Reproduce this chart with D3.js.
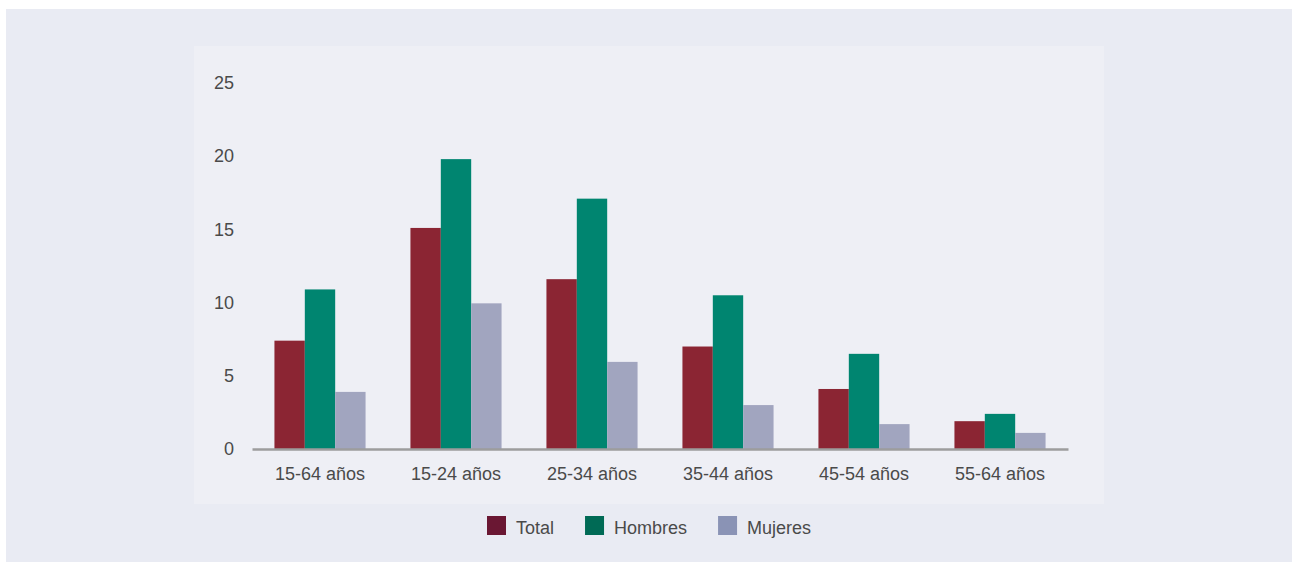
<!DOCTYPE html>
<html>
<head>
<meta charset="utf-8">
<script src="https://cdn.jsdelivr.net/npm/d3@7"></script>
<style>
  html, body { margin: 0; padding: 0; background: #ffffff; }
  svg { display: block; font-family: "Liberation Sans", Arial, Helvetica, sans-serif; }
</style>
</head>
<body>
<svg id="chart" width="1292" height="562"></svg>
<script>
const categories = ["15-64 años", "15-24 años", "25-34 años", "35-44 años", "45-54 años", "55-64 años"];
const seriesNames = ["Total", "Hombres", "Mujeres"];
const totalValues   = [7.4, 15.1, 11.6, 7.0, 4.1, 1.9];
const hombresValues = [10.9, 19.8, 17.1, 10.5, 6.5, 2.4];
const mujeresValues = [3.9, 9.95, 5.95, 3.0, 1.7, 1.1];
const yTicks = [0, 5, 10, 15, 20, 25];

const barColors = ["#8b2533", "#008570", "#a1a5bf"];
const legendColors = ["#6a1733", "#006a55", "#8a93b5"];

const seriesValues = [totalValues, hombresValues, mujeresValues];
const data = categories.map((c, i) => ({
  cat: c,
  vals: seriesNames.map((s, j) => ({ key: s, idx: j, value: seriesValues[j][i] }))
}));

const svg = d3.select("#chart");

// backgrounds
svg.append("rect").attr("x", 6).attr("y", 9).attr("width", 1286).attr("height", 553).attr("fill", "#e9ebf3");
svg.append("rect").attr("x", 194).attr("y", 46).attr("width", 910).attr("height", 458).attr("fill", "#eeeff5");

const x0 = d3.scaleBand().domain(categories).range([252, 1068]).paddingInner(0.33).paddingOuter(0.165);
const x1 = d3.scaleBand().domain(seriesNames).range([0, x0.bandwidth()]).padding(0);
const y = d3.scaleLinear().domain([0, 25]).range([449, 83]);

// bars
const groups = svg.append("g").selectAll("g").data(data).join("g")
  .attr("transform", d => `translate(${x0(d.cat)},0)`);
groups.selectAll("rect").data(d => d.vals).join("rect")
  .attr("x", d => x1(d.key))
  .attr("y", d => y(d.value))
  .attr("width", x1.bandwidth())
  .attr("height", d => y(0) - y(d.value))
  .attr("fill", d => barColors[d.idx]);

// y axis (labels only)
const yAxis = d3.axisLeft(y).tickValues(yTicks).tickSize(0).tickPadding(0).tickFormat(d3.format("d"));
const gy = svg.append("g").attr("transform", "translate(234,0)").call(yAxis);
gy.select(".domain").remove();
gy.selectAll("text").attr("font-size", 18).attr("fill", "#4a4a4a")
  .attr("font-family", "'Liberation Sans', Arial, sans-serif");

// x axis
const xAxis = d3.axisBottom(x0).tickSize(0).tickPadding(18);
const gx = svg.append("g").attr("transform", `translate(0,${y(0)})`).call(xAxis);
gx.select(".domain").attr("stroke", "#9d9d9d").attr("stroke-width", 2.5);
gx.selectAll("text").attr("font-size", 18).attr("fill", "#4a4a4a")
  .attr("font-family", "'Liberation Sans', Arial, sans-serif");

// legend
const legend = svg.append("g");
let lx = 487;
seriesNames.forEach((name, i) => {
  legend.append("rect").attr("x", lx).attr("y", 516).attr("width", 19).attr("height", 19).attr("fill", legendColors[i]);
  const t = legend.append("text").attr("x", lx + 29).attr("y", 534).attr("font-size", 18)
    .attr("fill", "#4a4a4a").text(name);
  const w = t.node().getComputedTextLength();
  lx = lx + 29 + w + 31;
});
</script>
</body>
</html>
